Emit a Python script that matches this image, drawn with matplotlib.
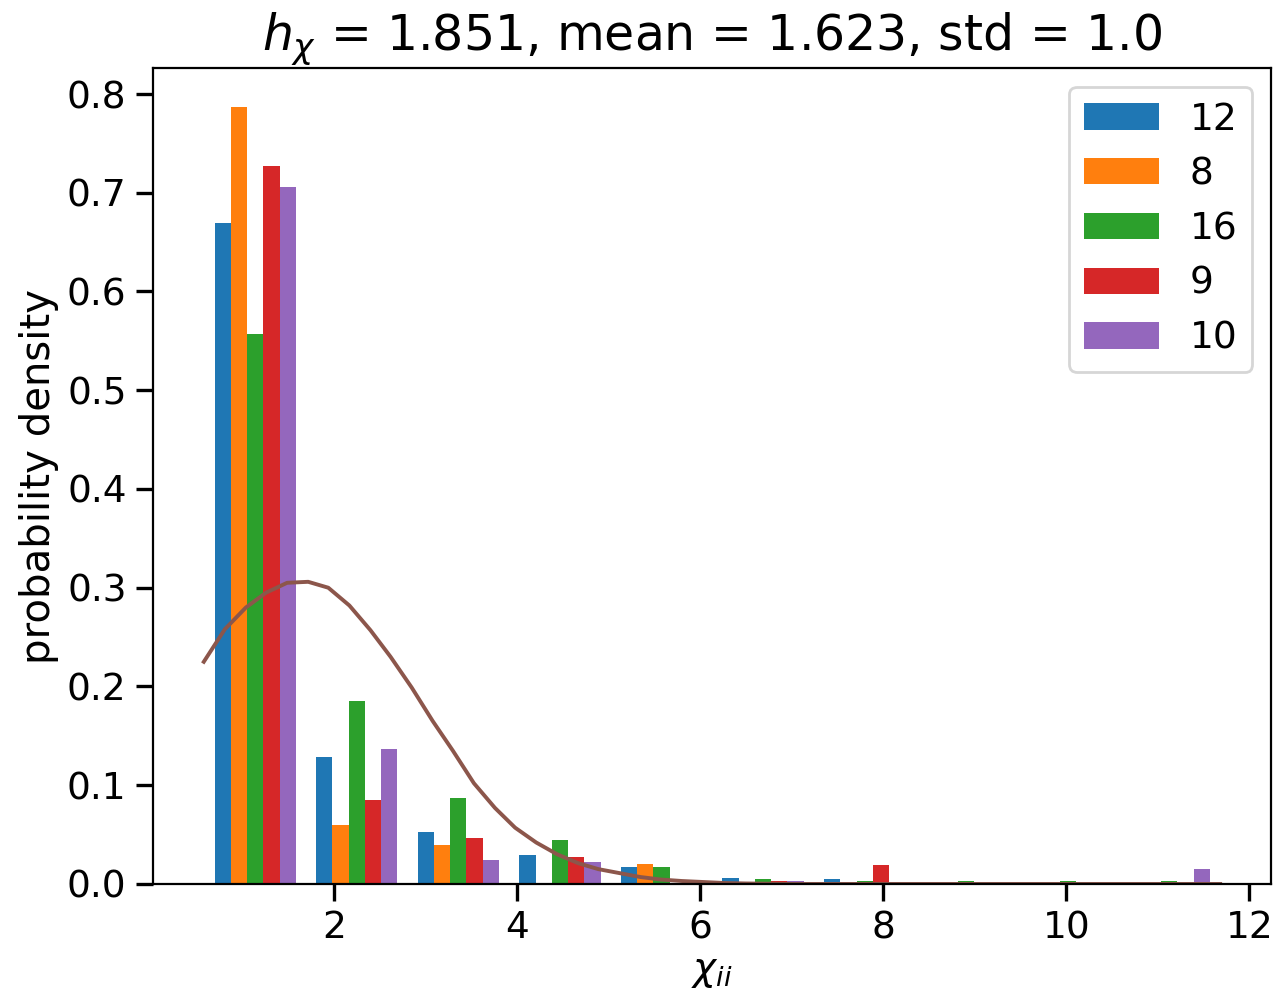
import numpy as np
import matplotlib
matplotlib.use("Agg")
import matplotlib.pyplot as plt

# histogram range (min / max of the data) and bin count
x_min, x_max = 0.587, 11.68
n_bins = 10

labels = ["12", "8", "16", "9", "10"]

# probability density per bin
dens_12 = [0.669, 0.129, 0.053, 0.029, 0.017, 0.006, 0.005, 0.0, 0.0, 0.0]
dens_8 = [0.787, 0.060, 0.039, 0.0, 0.020, 0.0, 0.0, 0.0, 0.0, 0.0]
dens_16 = [0.557, 0.185, 0.087, 0.045, 0.017, 0.005, 0.003, 0.003, 0.003, 0.003]
dens_9 = [0.727, 0.085, 0.047, 0.027, 0.0, 0.003, 0.019, 0.0, 0.0, 0.0]
dens_10 = [0.706, 0.137, 0.024, 0.022, 0.0, 0.003, 0.0, 0.0, 0.0, 0.015]

# fitted curve
curve_x = [0.58, 0.81, 1.04, 1.26, 1.49, 1.72, 1.94, 2.17, 2.40, 2.62, 2.85,
           3.08, 3.30, 3.53, 3.76, 3.98, 4.21, 4.44, 4.67, 4.89, 5.12, 5.35,
           5.57, 5.80, 6.03, 6.26, 6.50, 7.0, 8.0, 9.0, 10.0, 11.0, 11.68]
curve_y = [0.225, 0.258, 0.280, 0.295, 0.305, 0.306, 0.300, 0.282, 0.257,
           0.230, 0.199, 0.165, 0.135, 0.102, 0.077, 0.057, 0.042, 0.030,
           0.021, 0.015, 0.011, 0.007, 0.0045, 0.003, 0.002, 0.001, 0.0005,
           0.0, 0.0, 0.0, 0.0, 0.0, 0.0]

edges = np.linspace(x_min, x_max, n_bins + 1)
centers = (edges[:-1] + edges[1:]) / 2
dens = [dens_12, dens_8, dens_16, dens_9, dens_10]

fig = plt.figure(figsize=(6.39, 4.97), dpi=200)
ax = fig.add_axes([0.1197, 0.1107, 0.8748, 0.8209])

ax.hist([centers] * len(dens), bins=edges, weights=dens, label=labels)
ax.plot(curve_x, curve_y, color="tab:brown", lw=1.4)

ax.set_title(r"$h_\chi$ = 1.851, mean = 1.623, std = 1.0", fontsize=17.6)
ax.set_xlabel(r"$\chi_{ii}$", fontsize=14, labelpad=2)
ax.set_ylabel("probability density", fontsize=14.5, labelpad=3)
ax.tick_params(labelsize=13.5, length=6, width=1.2)
ax.legend(fontsize=13.5, labelspacing=0.5)

fig.savefig("out.png", dpi=200)
